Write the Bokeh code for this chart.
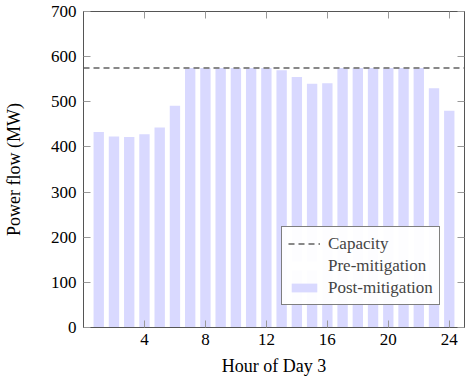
from bokeh.plotting import figure
from bokeh.models import (LinearAxis, Range1d, FixedTicker, Legend, LegendItem)
from bokeh.embed import file_html
from bokeh.resources import INLINE

hours = list(range(1, 25))
post_mitigation = [433, 423, 422, 428, 443, 491, 575, 575, 575, 575, 575, 575,
                   570, 555, 540, 541, 575, 575, 575, 575, 575, 575, 530, 480]
pre_mitigation = post_mitigation
capacity = 575
x_ticks = [4, 8, 12, 16, 20, 24]
y_ticks = [0, 100, 200, 300, 400, 500, 600, 700]

FONT = "Liberation Serif"

p = figure(frame_width=381, frame_height=316, output_backend="svg", toolbar_location=None,
           x_range=Range1d(0, 25), y_range=Range1d(0, 700),
           min_border_left=76, min_border_right=1, min_border_top=11, min_border_bottom=45)
p.grid.visible = False
p.outline_line_color = "#555555"
p.outline_line_width = 1

pre = p.vbar(x=hours, top=pre_mitigation, width=0.68, fill_color="white", line_color=None)
post = p.vbar(x=hours, top=post_mitigation, width=0.68, fill_color="#d9d9ff", line_color=None)
cap = p.line(x=[0, 25], y=[capacity, capacity], line_color="#888888", line_width=2,
             line_dash="6 4")

def style(ax, show_labels=True):
    ax.axis_line_color = "#555555"
    ax.major_tick_in = 7
    ax.major_tick_out = 0
    ax.minor_tick_in = 0
    ax.minor_tick_out = 0
    ax.major_tick_line_color = "#999999"
    ax.major_label_text_font = FONT
    ax.major_label_text_font_size = "17px"
    ax.major_label_text_color = "black"
    ax.axis_label_text_font = FONT
    ax.axis_label_text_font_size = "18px"
    ax.axis_label_text_font_style = "normal"
    ax.axis_label_text_color = "black"
    if not show_labels:
        ax.major_label_text_font_size = "0px"
        ax.major_label_text_color = None
        ax.major_label_standoff = 0
        ax.axis_label_standoff = 0

p.xaxis.ticker = FixedTicker(ticks=x_ticks)
p.yaxis.ticker = FixedTicker(ticks=y_ticks)
p.xaxis.axis_label = "Hour of Day 3"
p.yaxis.axis_label = "Power flow (MW)"
style(p.xaxis[0]); style(p.yaxis[0])
p.xaxis[0].major_label_standoff = 6
p.yaxis[0].major_label_standoff = 7
p.yaxis[0].axis_label_standoff = 24
p.xaxis[0].axis_label_standoff = 8

top = LinearAxis(ticker=FixedTicker(ticks=x_ticks))
style(top, False)
p.add_layout(top, "above")
right = LinearAxis(ticker=FixedTicker(ticks=y_ticks))
style(right, False)
p.add_layout(right, "right")

legend = Legend(items=[LegendItem(label="Capacity", renderers=[cap]),
                       LegendItem(label="Pre-mitigation", renderers=[pre]),
                       LegendItem(label="Post-mitigation", renderers=[post])],
                location=(198, 22))
legend.label_text_font = FONT
legend.label_text_font_size = "17px"
legend.label_height = 21
legend.glyph_height = 11
legend.glyph_width = 32
legend.spacing = 1
legend.padding = 6
legend.margin = 0
legend.border_line_color = "black"
legend.border_line_width = 1
legend.background_fill_color = "white"
legend.label_standoff = 8
p.add_layout(legend, "center")

open("out.html", "w").write(file_html(p, INLINE))
